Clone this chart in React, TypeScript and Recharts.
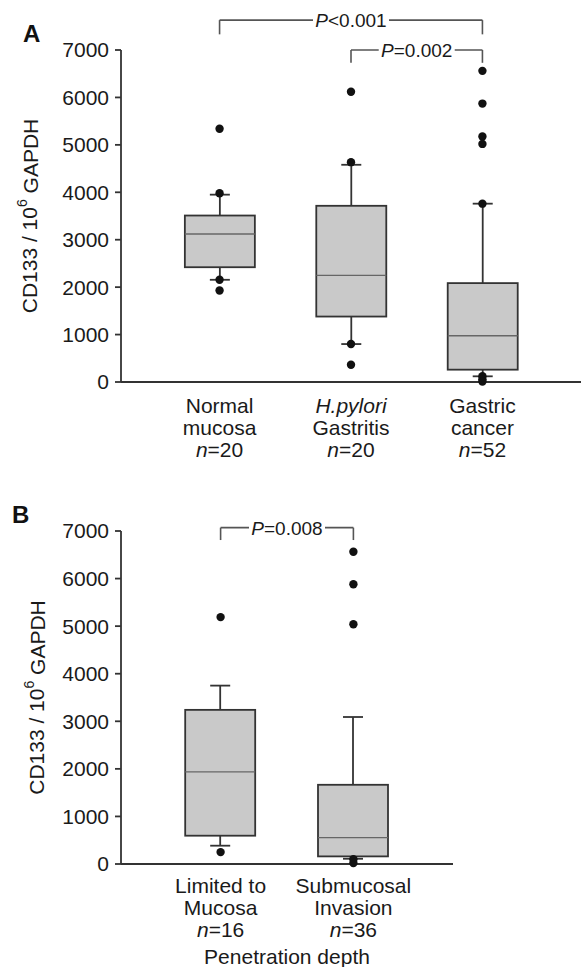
import { ComposedChart, Bar, Scatter, XAxis, YAxis, ReferenceLine } from "recharts";

const FONT = '"Liberation Sans", Arial, Helvetica, sans-serif';
const INK = "#1a1a1a";
const LINE = "#333";

// Panel A: CD133 expression by tissue type
const line1A = ["Normal", "H.pylori", "Gastric"];
const line2A = ["mucosa", "Gastritis", "cancer"];
const italicA = [false, true, false];
const nA = [20, 20, 52];
const q1A = [2420, 1380, 260];
const medA = [3120, 2250, 975];
const q3A = [3510, 3715, 2085];
const loA = [2155, 800, 120];
const hiA = [3950, 4580, 3760];
const outNormal = [5340, 3980, 2155, 1930];
const outHp = [6120, 4635, 800, 365];
const outCancer = [6560, 5870, 5175, 5020, 3760, 120, 60, 10];

// Panel B: by penetration depth
const line1B = ["Limited to", "Submucosal"];
const line2B = ["Mucosa", "Invasion"];
const italicB = [false, false];
const nB = [16, 36];
const q1B = [595, 160];
const medB = [1935, 555];
const q3B = [3240, 1665];
const loB = [385, 110];
const hiB = [3750, 3090];
const outLimited = [5190, 250];
const outSubmucosal = [6565, 5880, 5040, 100, 20];

const yTicks = [0, 1000, 2000, 3000, 4000, 5000, 6000, 7000];

// brackets: [from, to, top, bottom, label]
const bracketsA: [number, number, number, number, string][] = [
  [1, 3, 7630, 7330, "<0.001"],
  [2, 3, 7000, 6730, "=0.002"],
];
const bracketsB: [number, number, number, number, string][] = [[1, 2, 7070, 6810, "=0.008"]];

const makeRows = (q1: number[], med: number[], q3: number[], lo: number[], hi: number[]) =>
  q1.map((_, i) => ({ x: i + 1, q1: q1[i], med: med[i], q3: q3[i], lo: lo[i], hi: hi[i] }));

const makeDots = (groups: number[][]) =>
  groups.flatMap((vals, i) => vals.map((v) => ({ x: i + 1, v })));

const BoxShape = (props: any) => {
  const { x, y, width, height, payload } = props;
  const k = height / (payload.q3 - payload.q1);
  const toY = (v: number) => y + (payload.q3 - v) * k;
  const cx = x + width / 2;
  const cap = 10;
  return (
    <g>
      <line x1={cx} x2={cx} y1={toY(payload.hi)} y2={y} stroke={LINE} strokeWidth={1.8} />
      <line x1={cx} x2={cx} y1={y + height} y2={toY(payload.lo)} stroke={LINE} strokeWidth={1.8} />
      <line x1={cx - cap} x2={cx + cap} y1={toY(payload.hi)} y2={toY(payload.hi)} stroke={LINE} strokeWidth={1.8} />
      <line x1={cx - cap} x2={cx + cap} y1={toY(payload.lo)} y2={toY(payload.lo)} stroke={LINE} strokeWidth={1.8} />
      <rect x={x} y={y} width={width} height={height} fill="#c9c9c9" stroke={LINE} strokeWidth={1.8} />
      <line x1={x} x2={x + width} y1={toY(payload.med)} y2={toY(payload.med)} stroke="#666" strokeWidth={1.3} />
    </g>
  );
};

const Dot = (props: any) => <circle cx={props.cx} cy={props.cy} r={4.2} fill="#111" />;

const CatTick = (props: any) => {
  const { x, y, payload, line1, line2, italic, n, dy0 } = props;
  const i = Math.round(payload.value) - 1;
  if (i < 0 || i >= line1.length) return null;
  return (
    <text x={x} y={y} textAnchor="middle" fontSize={21} fontFamily={FONT} fill={INK}>
      <tspan x={x} dy={dy0} fontStyle={italic[i] ? "italic" : "normal"}>{line1[i]}</tspan>
      <tspan x={x} dy={22}>{line2[i]}</tspan>
      <tspan x={x} dy={22}>
        <tspan fontStyle="italic">n</tspan>={n[i]}
      </tspan>
    </text>
  );
};

const YLabel = (props: any) => {
  const { viewBox, cx } = props;
  const cy = viewBox.y + viewBox.height / 2;
  return (
    <text
      x={cx}
      y={cy}
      transform={`rotate(-90, ${cx}, ${cy})`}
      textAnchor="middle"
      dominantBaseline="central"
      fontSize={21}
      fontFamily={FONT}
      fill={INK}
    >
      CD133 / 10
      <tspan dy={-8} fontSize={14}>6</tspan>
      <tspan dy={8}> GAPDH</tspan>
    </text>
  );
};

const XLabel = (props: any) => {
  const { viewBox, text } = props;
  return (
    <text x={viewBox.x + viewBox.width / 2} y={viewBox.y + 100} textAnchor="middle" fontSize={21} fontFamily={FONT} fill={INK}>
      {text}
    </text>
  );
};

const BracketLabel = (props: any) => {
  const { viewBox, text } = props;
  const cx = viewBox.x + viewBox.width / 2;
  const cy = viewBox.y;
  return (
    <g>
      <rect x={cx - 38} y={cy - 10} width={76} height={20} fill="#fff" />
      <text x={cx} y={cy + 7} textAnchor="middle" fontSize={19} fontFamily={FONT} fill={INK}>
        <tspan fontStyle="italic">P</tspan>
        {text}
      </text>
    </g>
  );
};

interface PanelProps {
  top: number;
  height: number;
  marginTop: number;
  marginRight: number;
  plotHeight: number;
  xDomain: [number, number];
  rows: any[];
  dots: any[];
  line1: string[];
  line2: string[];
  italic: boolean[];
  n: number[];
  dy0: number;
  brackets: [number, number, number, number, string][];
  yLabelX: number;
  xLabel?: string;
  letter: string;
  letterX: number;
}

function Panel(p: PanelProps) {
  const xTicks = p.rows.map((r) => r.x);
  return (
    <div style={{ position: "absolute", left: 0, top: p.top, width: 581, height: p.height }}>
      <ComposedChart
        width={581}
        height={p.height}
        data={p.rows}
        margin={{ top: p.marginTop, right: p.marginRight, bottom: 0, left: 0 }}
      >
        <XAxis
          type="number"
          dataKey="x"
          domain={p.xDomain}
          ticks={xTicks}
          interval={0}
          allowDataOverflow
          height={p.height - p.marginTop - p.plotHeight}
          axisLine={{ stroke: LINE, strokeWidth: 1.8 }}
          tickLine={false}
          tickSize={0}
          tickMargin={0}
          tick={<CatTick line1={p.line1} line2={p.line2} italic={p.italic} n={p.n} dy0={p.dy0} />}
          label={p.xLabel ? <XLabel text={p.xLabel} /> : undefined}
        />
        <YAxis
          type="number"
          domain={[0, 7000]}
          ticks={yTicks}
          interval={0}
          width={121}
          axisLine={{ stroke: LINE, strokeWidth: 1.8 }}
          tickLine={{ stroke: LINE, strokeWidth: 1.8 }}
          tickSize={6}
          tickMargin={6}
          tick={{ fontSize: 21, fontFamily: FONT, fill: INK }}
          label={<YLabel cx={p.yLabelX} />}
        />
        <Bar dataKey={(d: any) => [d.q1, d.q3]} barSize={70} shape={<BoxShape />} isAnimationActive={false} />
        <Scatter data={p.dots} dataKey="v" shape={<Dot />} isAnimationActive={false} />
        {p.brackets.flatMap(([from, to, topV, botV, text], i) => [
          <ReferenceLine
            key={`h${i}`}
            segment={[{ x: from, y: topV }, { x: to, y: topV }]}
            stroke="#555"
            strokeWidth={1.6}
            ifOverflow="visible"
            label={<BracketLabel text={text} />}
          />,
          <ReferenceLine
            key={`l${i}`}
            segment={[{ x: from, y: topV }, { x: from, y: botV }]}
            stroke="#555"
            strokeWidth={1.6}
            ifOverflow="visible"
          />,
          <ReferenceLine
            key={`r${i}`}
            segment={[{ x: to, y: topV }, { x: to, y: botV }]}
            stroke="#555"
            strokeWidth={1.6}
            ifOverflow="visible"
          />,
        ])}
      </ComposedChart>
      <div
        style={{
          position: "absolute",
          left: p.letterX,
          top: p.marginTop - 28,
          fontFamily: FONT,
          fontWeight: 700,
          fontSize: 24,
          lineHeight: "24px",
          color: "#111",
        }}
      >
        {p.letter}
      </div>
    </div>
  );
}

export default function App() {
  const rowsA = makeRows(q1A, medA, q3A, loA, hiA);
  const rowsB = makeRows(q1B, medB, q3B, loB, hiB);
  const dotsA = makeDots([outNormal, outHp, outCancer]);
  const dotsB = makeDots([outLimited, outSubmucosal]);
  return (
    <div style={{ position: "absolute", left: 0, top: 0, width: 581, height: 967, background: "#fff" }}>
      <Panel
        top={0}
        height={470}
        marginTop={50}
        marginRight={0}
        plotHeight={332}
        xDomain={[0.25, 3.75]}
        rows={rowsA}
        dots={dotsA}
        line1={line1A}
        line2={line2A}
        italic={italicA}
        n={nA}
        dy0={31}
        brackets={bracketsA}
        yLabelX={29.5}
        letter="A"
        letterX={23}
      />
      <Panel
        top={480}
        height={487}
        marginTop={51}
        marginRight={128}
        plotHeight={333}
        xDomain={[0.25, 2.75]}
        rows={rowsB}
        dots={dotsB}
        line1={line1B}
        line2={line2B}
        italic={italicB}
        n={nB}
        dy0={29}
        brackets={bracketsB}
        yLabelX={36.5}
        xLabel="Penetration depth"
        letter="B"
        letterX={12}
      />
    </div>
  );
}
